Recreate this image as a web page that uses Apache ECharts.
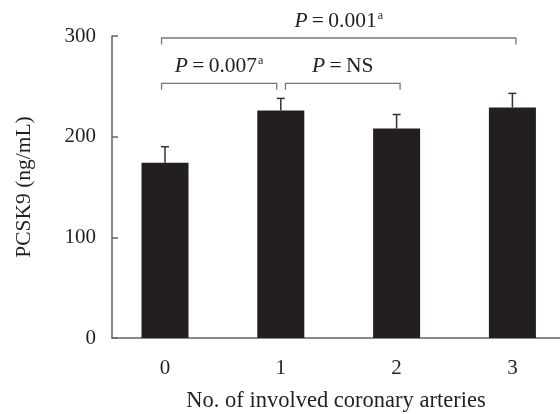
<!DOCTYPE html>
<html><head><meta charset="utf-8">
<script src="https://cdn.jsdelivr.net/npm/echarts@6/dist/echarts.min.js"></script>
<style>html,body{margin:0;padding:0;background:#fff}#c{width:560px;height:414px}</style>
</head><body><div id="c"></div>
<script>
const categories = ['0', '1', '2', '3'];
const means = [174, 226, 208, 229];
const sds = [16, 12, 14, 14];
const yTicks = [0, 100, 200, 300];
// brackets: [x start, x end, y (data), label]
const bracketStart = [-0.03, -0.03, 1.04];
const bracketEnd = [3.03, 0.965, 2.03];
const bracketY = [298, 253, 253];
const bracketLabels = ['0.001', '0.007', 'NS'];
const bracketSup = ['a', 'a', ''];

const font = '"Liberation Serif", "DejaVu Serif", serif';
const dark = '#231f20';
const axisGray = '#666';

const chart = echarts.init(document.getElementById('c'));
const barData = means.map((v, i) => [i, v]);
const errData = means.map((v, i) => [i, v, sds[i]]);
const brData = bracketStart.map((s, i) => [s, bracketEnd[i], bracketY[i], i]);
const thin = '\u2009';

chart.setOption({
  animation: false,
  grid: { left: 112, right: 0, top: 36, bottom: 76, containLabel: false, outerBoundsMode: 'none' },
  xAxis: {
    type: 'value', min: -0.4577, max: 3.411,
    name: 'No. of involved coronary arteries', nameLocation: 'middle', nameGap: 52,
    nameTextStyle: { fontFamily: font, fontSize: 22.5, color: dark },
    axisLine: { show: true, onZero: false, lineStyle: { color: axisGray, width: 1.5 } },
    axisTick: { show: false },
    splitLine: { show: false },
    axisLabel: { customValues: [0, 1, 2, 3], formatter: v => categories[Math.round(v)] ?? '',
      fontFamily: font, fontSize: 21, color: dark, margin: 20 }
  },
  yAxis: {
    type: 'value', min: 0, max: 300, interval: 100,
    name: 'PCSK9 (ng/mL)', nameLocation: 'middle', nameGap: 77,
    nameTextStyle: { fontFamily: font, fontSize: 21.5, color: dark },
    axisLine: { show: true, onZero: false, lineStyle: { color: axisGray, width: 1.5 } },
    axisTick: { show: true, inside: true, length: 6, lineStyle: { color: axisGray, width: 1.5 } },
    splitLine: { show: false },
    axisLabel: { fontFamily: font, fontSize: 21, color: dark, margin: 16,
      formatter: v => yTicks.includes(v) ? String(v) : '' }
  },
  series: [
    { type: 'bar', data: barData, barWidth: 47, itemStyle: { color: dark }, z: 2 },
    { type: 'custom', data: errData, z: 3,
      renderItem: (params, api) => {
        const x = api.value(0), m = api.value(1), s = api.value(2);
        const p0 = api.coord([x, m]);
        const p1 = api.coord([x, m + s]);
        const cap = 4;
        const st = { stroke: '#333', lineWidth: 1.5 };
        return { type: 'group', children: [
          { type: 'line', shape: { x1: p0[0], y1: p0[1], x2: p1[0], y2: p1[1] }, style: st },
          { type: 'line', shape: { x1: p1[0] - cap, y1: p1[1], x2: p1[0] + cap, y2: p1[1] }, style: st }
        ]};
      }
    },
    { type: 'custom', data: brData, z: 4,
      renderItem: (params, api) => {
        const x0 = api.value(0), x1 = api.value(1), y = api.value(2), idx = api.value(3);
        const a = api.coord([x0, y]);
        const b = api.coord([x1, y]);
        const leg = 6.5;
        const st = { stroke: '#777', lineWidth: 1.3, fill: null };
        const cx = (a[0] + b[0]) / 2;
        return { type: 'group', children: [
          { type: 'polyline', shape: { points: [[a[0], a[1] + leg], [a[0], a[1]], [b[0], b[1]], [b[0], b[1] + leg]] }, style: st },
          { type: 'text', x: cx, y: a[1] - 17, style: {
              text: '{i|P}{n|' + thin + '=' + thin + bracketLabels[idx] + '}' + (bracketSup[idx] ? '{s|' + bracketSup[idx] + '}' : ''),
              align: 'center', verticalAlign: 'middle',
              rich: {
                i: { fontFamily: font, fontStyle: 'italic', fontSize: 21.5, fill: dark, color: dark },
                n: { fontFamily: font, fontSize: 21.5, fill: dark, color: dark },
                s: { fontFamily: font, fontSize: 12, fill: dark, color: dark, verticalAlign: 'top', padding: [0, 0, 9, 1] }
              }
            } }
        ]};
      }
    }
  ]
});
</script></body></html>
